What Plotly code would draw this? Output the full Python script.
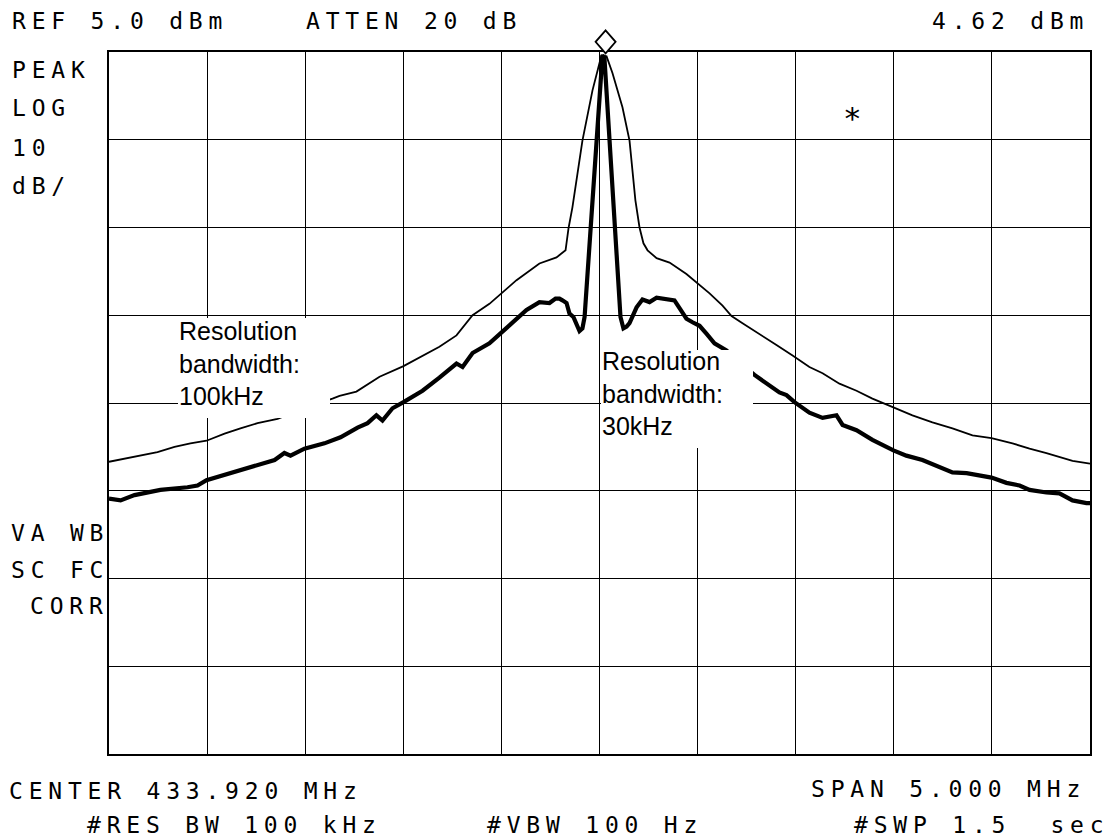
import plotly.graph_objects as go

# ---------------- data ----------------
CENTER_MHZ = 433.920
SPAN_MHZ = 5.0
REF_DBM = 5.0
DB_PER_DIV = 10
N_DIV_Y = 8

# Trace 1: resolution bandwidth 100 kHz (thin)
rbw100_freq = [431.420, 431.514, 431.581, 431.667, 431.754, 431.835, 431.917, 432.009,
               432.090, 432.177, 432.279, 432.416, 432.559, 432.595, 432.681, 432.799,
               432.921, 433.018, 433.104, 433.191, 433.273, 433.359, 433.421, 433.497,
               433.614, 433.701, 433.747, 433.762, 433.782, 433.833, 433.884, 433.910,
               433.930, 433.956, 433.986, 434.037, 434.073, 434.103, 434.124, 434.144,
               434.165, 434.211, 434.277, 434.363, 434.419, 434.481, 434.547, 434.593,
               434.649, 434.736, 434.822, 434.904, 434.990, 435.057, 435.143, 435.230,
               435.311, 435.418, 435.515, 435.617, 435.719, 435.821, 435.918, 436.025,
               436.112, 436.198, 436.280, 436.331, 436.420]
rbw100_dbm = [-41.7, -41.3, -41.0, -40.6, -40.0, -39.6, -39.3, -38.5,
              -37.9, -37.3, -36.8, -35.6, -34.5, -34.2, -33.7, -32.0,
              -30.8, -29.6, -28.6, -27.3, -25.0, -23.7, -22.5, -21.0,
              -19.1, -18.4, -17.6, -15.1, -12.7, -5.1, 0.6, 2.9,
              4.62, 4.5, 2.6, -1.3, -5.1, -11.9, -15.0, -16.8,
              -17.6, -18.5, -19.0, -20.3, -21.3, -22.5, -23.9, -25.1,
              -25.9, -27.2, -28.4, -29.6, -30.9, -31.6, -32.8, -33.6,
              -34.5, -35.5, -36.4, -37.2, -37.9, -38.7, -39.0, -39.6,
              -40.2, -40.7, -41.3, -41.6, -41.9]

# Trace 2: resolution bandwidth 30 kHz (thick)
rbw30_freq = [431.420, 431.479, 431.550, 431.616, 431.682, 431.820, 431.871, 431.917,
              432.009, 432.090, 432.177, 432.264, 432.314, 432.345, 432.416, 432.518,
              432.600, 432.687, 432.738, 432.783, 432.814, 432.865, 432.921, 433.018,
              433.104, 433.191, 433.222, 433.273, 433.359, 433.421, 433.497, 433.548,
              433.614, 433.665, 433.696, 433.716, 433.731, 433.752, 433.767, 433.787,
              433.818, 433.833, 433.844, 433.875, 433.905, 433.935, 433.945, 433.971,
              434.001, 434.027, 434.042, 434.058, 434.073, 434.109, 434.139, 434.175,
              434.211, 434.261, 434.302, 434.328, 434.363, 434.394, 434.430, 434.465,
              434.506, 434.567, 434.634, 434.710, 434.771, 434.837, 434.873, 434.914,
              434.990, 435.057, 435.128, 435.159, 435.230, 435.311, 435.418, 435.484,
              435.566, 435.653, 435.719, 435.791, 435.857, 435.918, 435.994, 436.061,
              436.112, 436.198, 436.264, 436.331, 436.402, 436.420]
rbw30_dbm = [-45.9, -46.1, -45.5, -45.2, -44.9, -44.6, -44.4, -43.8,
             -43.2, -42.7, -42.1, -41.5, -40.7, -41.0, -40.2, -39.6,
             -38.9, -37.8, -37.3, -36.4, -37.0, -35.6, -34.9, -33.6,
             -32.1, -30.5, -30.9, -29.3, -28.2, -27.0, -25.4, -24.4,
             -23.5, -23.6, -23.1, -23.1, -23.3, -23.6, -24.8, -25.2,
             -26.8, -26.5, -25.2, -15.1, -5.0, 4.6, 4.4, -5.0,
             -15.1, -25.2, -26.5, -26.3, -25.9, -24.1, -23.2, -23.5,
             -23.0, -23.2, -23.3, -24.2, -25.4, -25.8, -26.2, -27.1,
             -28.2, -29.0, -30.4, -31.8, -32.8, -33.8, -34.1, -34.9,
             -36.1, -36.7, -36.4, -37.5, -38.1, -39.2, -40.4, -41.0,
             -41.5, -42.3, -42.9, -43.0, -43.2, -43.5, -44.1, -44.4,
             -44.9, -45.2, -45.3, -46.1, -46.4, -46.4]

# Peak marker (readout 4.62 dBm)
marker_freq = 433.951
marker_dbm = 4.62

# Instrument annotations
top_left = "REF 5.0 dBm"
top_mid = "ATTEN 20 dB"
top_right = "4.62 dBm"
side_top = ["PEAK", "LOG", "10", "dB/"]
side_bottom = ["VA WB", "SC FC", "CORR"]
bottom_texts = ["CENTER 433.920 MHz", "SPAN 5.000 MHz",
                "#RES BW 100 kHz", "#VBW 100 Hz", "#SWP 1.5\u00a0 sec"]
label_100k = "Resolution<br>bandwidth:<br>100kHz"
label_30k = "Resolution<br>bandwidth:<br>30kHz"

# ---------------- figure ----------------
W, H = 1115, 837
ML, MR, MT, MB = 109, 25, 52, 83
PW, PH = W - ML - MR, H - MT - MB


def px(x):
    return (x - ML) / PW


def py(y):
    return (H - MB - y) / PH


x0 = CENTER_MHZ - SPAN_MHZ / 2
x1 = CENTER_MHZ + SPAN_MHZ / 2
y1 = REF_DBM
y0 = REF_DBM - DB_PER_DIV * N_DIV_Y

fig = go.Figure()
fig.add_trace(go.Scatter(x=rbw100_freq, y=rbw100_dbm, mode="lines",
                         line=dict(color="black", width=1.8), hoverinfo="skip",
                         showlegend=False))
fig.add_trace(go.Scatter(x=rbw30_freq, y=rbw30_dbm, mode="lines",
                         line=dict(color="black", width=4.2), hoverinfo="skip",
                         showlegend=False))

MONO = "DejaVu Sans Mono"
FS = 23
LS = 5.8


def spaced(t):
    return '<span style="letter-spacing:%.1fpx">%s</span>' % (LS, t)


ann = []


def instr(text, x, ytop, anchor="left"):
    if anchor == "right":
        x = x + LS
    ann.append(dict(text=spaced(text), x=px(x), y=py(ytop - 6), xref="paper",
                    yref="paper", xanchor=anchor, yanchor="top", showarrow=False,
                    font=dict(family=MONO, size=FS, color="black"), borderpad=0))


instr(top_left, 11, 13)
instr(top_mid, 305, 13)
instr(top_right, 1084, 13, "right")
for t, yy in zip(side_top, [62, 100, 140, 178]):
    instr(t, 11, yy)
instr(side_bottom[0], 10, 525)
instr(side_bottom[1], 10, 562)
instr(side_bottom[2], 104, 598, "right")
instr(bottom_texts[0], 8, 783)
instr(bottom_texts[1], 1081, 781, "right")
instr(bottom_texts[2], 86, 817)
instr(bottom_texts[3], 486, 817)
instr(bottom_texts[4], 1104, 817, "right")

# asterisk
ann.append(dict(text="*", x=px(852), y=py(118), xref="paper", yref="paper",
                xanchor="center", yanchor="middle", showarrow=False,
                font=dict(family=MONO, size=31, color="black")))

SANS = "Liberation Sans"
for txt, x, ytop in [(label_100k, 178, 316), (label_30k, 601, 346)]:
    ann.append(dict(text=txt, x=px(x), y=py(ytop), xref="paper", yref="paper",
                    xanchor="left", yanchor="top", align="left", showarrow=False,
                    font=dict(family=SANS, size=25, color="black"), borderpad=0))

shapes = []
for (bx0, by0, bx1, by1) in [(178, 318, 330, 418), (601, 350, 753, 448)]:
    shapes.append(dict(type="rect", xref="paper", yref="paper",
                       x0=px(bx0), x1=px(bx1), y0=py(by1), y1=py(by0),
                       fillcolor="white", line=dict(width=0), layer="above"))

# peak marker diamond: anchored at the peak (level mapped to paper so it is
# not clipped by the plot area), drawn in pixel units just above it
marker_paper_y = (marker_dbm - y0) / (y1 - y0)
marker_paper_x = (marker_freq - x0) / (x1 - x0)
shapes.append(dict(type="path", xref="paper", yref="paper", xsizemode="pixel",
                   ysizemode="pixel", xanchor=marker_paper_x, yanchor=marker_paper_y,
                   path="M 0,2 L 10,13.5 L 0,25 L -10,13.5 Z",
                   fillcolor="white", line=dict(color="black", width=1.8),
                   layer="above"))

axis_common = dict(showticklabels=False, ticks="", showgrid=True, gridcolor="black",
                   gridwidth=1.4, zeroline=False, showline=True, linecolor="black",
                   linewidth=2, mirror=True, fixedrange=True)

fig.update_layout(
    width=W, height=H,
    margin=dict(l=ML, r=MR, t=MT, b=MB),
    paper_bgcolor="white", plot_bgcolor="white",
    xaxis=dict(range=[x0, x1], tick0=x0, dtick=SPAN_MHZ / 10, **axis_common),
    yaxis=dict(range=[y0, y1], tick0=y0, dtick=DB_PER_DIV, **axis_common),
    annotations=ann, shapes=shapes, showlegend=False,
)

fig.write_html("out.html", config={"displayModeBar": False},
               post_script="document.body.style.margin='0px';"
                           "document.body.style.overflow='hidden';")
